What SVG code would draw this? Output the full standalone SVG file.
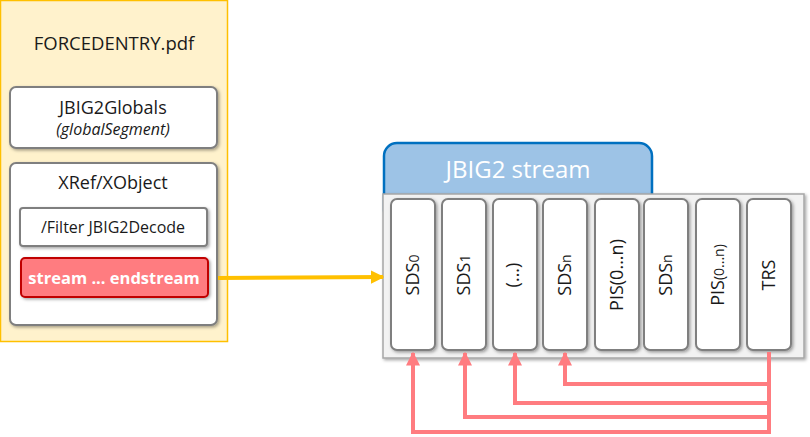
<svg xmlns="http://www.w3.org/2000/svg" width="810" height="437" viewBox="0 0 810 437">
<defs>
<filter id="sh" x="-20%" y="-20%" width="140%" height="140%">
<feDropShadow dx="1.5" dy="1.5" stdDeviation="1.5" flood-color="#000" flood-opacity="0.35"/>
</filter>
<marker id="ay" viewBox="0 0 10 10" refX="9" refY="5" markerWidth="3.4" markerHeight="3.4" orient="auto" markerUnits="strokeWidth">
<path d="M0,0 L10,5 L0,10 z" fill="#FFC000"/>
</marker>
<marker id="ap" viewBox="0 0 10 10" refX="9" refY="5" markerWidth="3.5" markerHeight="3.5" orient="auto" markerUnits="strokeWidth">
<path d="M0,0 L10,5 L0,10 z" fill="#FF7C80"/>
</marker>
</defs>
<style>
text{font-family:"Open Sans","Noto Sans","DejaVu Sans",sans-serif;fill:#1a1a1a}
.box{fill:#fff;stroke:#7f7f7f;stroke-width:2;filter:url(#sh)}
.col{fill:#fff;stroke:#7f7f7f;stroke-width:2;filter:url(#sh)}
.ct{font-size:18px;text-anchor:middle}
.pk{fill:none;stroke:#FF7C80;stroke-width:4}
</style>
<rect width="810" height="437" fill="#fff"/>
<g id="pdf">
<rect x="0.5" y="0.5" width="227" height="341" fill="#FFF2CC" stroke="#FFC000" stroke-width="1.5"/>
<text x="114" y="50" font-size="18.5" text-anchor="middle">FORCEDENTRY.pdf</text>
</g>
<g id="globals">
<rect class="box" x="10" y="87" width="207" height="61" rx="6"/>
<text x="113" y="114" font-size="18" text-anchor="middle">JBIG2Globals</text>
<text x="113" y="135" font-size="16" font-style="italic" text-anchor="middle">(globalSegment)</text>
</g>
<g id="xref">
<rect class="box" x="10" y="163" width="207" height="162" rx="6"/>
<text x="113" y="189" font-size="18" text-anchor="middle">XRef/XObject</text>
</g>
<g id="filter">
<rect class="box" x="20" y="208" width="187" height="38" rx="3"/>
<text x="113" y="233" font-size="16" text-anchor="middle">/Filter JBIG2Decode</text>
</g>
<g id="stream">
<rect x="21" y="258" width="187" height="39" rx="4" fill="#FF7C80" stroke="#C00000" stroke-width="2" filter="url(#sh)"/>
<text x="114" y="284" font-size="16.5" font-weight="bold" text-anchor="middle" style="fill:#fff">stream ... endstream</text>
</g>
<g id="jbig2tab">
<rect x="384" y="143" width="268" height="80" rx="13" fill="#9DC3E6" stroke="#0070C0" stroke-width="2.5"/>
<text x="518" y="178" font-size="24" text-anchor="middle" style="fill:#fff">JBIG2 stream</text>
</g>
<g id="container">
<rect x="383" y="194" width="421" height="164" fill="#F2F2F2" stroke="#A6A6A6" stroke-width="1.5" filter="url(#sh)"/>
</g>
<g id="sds0">
<rect class="col" x="391" y="199" width="44" height="151" rx="6"/>
<text class="ct" transform="translate(413,275) rotate(-90)" dy="6">SDS<tspan font-size="14">0</tspan></text>
</g>
<g id="sds1">
<rect class="col" x="442" y="199" width="44" height="151" rx="6"/>
<text class="ct" transform="translate(464,275) rotate(-90)" dy="6">SDS<tspan font-size="14">1</tspan></text>
</g>
<g id="dots">
<rect class="col" x="493" y="199" width="44" height="151" rx="6"/>
<text class="ct" transform="translate(515,275) rotate(-90)" dy="4" font-size="12">(...)</text>
</g>
<g id="sdsn1">
<rect class="col" x="543" y="199" width="44" height="151" rx="6"/>
<text class="ct" transform="translate(565,275) rotate(-90)" dy="6">SDS<tspan font-size="14">n</tspan></text>
</g>
<g id="pis1">
<rect class="col" x="595" y="199" width="44" height="151" rx="6"/>
<text class="ct" transform="translate(617,275) rotate(-90)" dy="6">PIS(0...n)</text>
</g>
<g id="sdsn2">
<rect class="col" x="644" y="199" width="44" height="151" rx="6"/>
<text class="ct" transform="translate(666,275) rotate(-90)" dy="6">SDS<tspan font-size="14">n</tspan></text>
</g>
<g id="pis2">
<rect class="col" x="696" y="199" width="44" height="151" rx="6"/>
<text class="ct" transform="translate(718,275) rotate(-90)" dy="6">PIS<tspan font-size="14">(0...n)</tspan></text>
</g>
<g id="trs">
<rect class="col" x="747" y="199" width="44" height="151" rx="6"/>
<text class="ct" transform="translate(769,275) rotate(-90)" dy="6">TRS</text>
</g>
<g id="connectors">
<line x1="218" y1="278" x2="383" y2="277" stroke="#FFC000" stroke-width="4" marker-end="url(#ay)"/>
<path class="pk" d="M769,352 V432"/>
<path class="pk" d="M769,384 H565 V353" marker-end="url(#ap)"/>
<path class="pk" d="M769,403 H515 V353" marker-end="url(#ap)"/>
<path class="pk" d="M769,417 H465 V353" marker-end="url(#ap)"/>
<path class="pk" d="M771,432 H413 V353" marker-end="url(#ap)"/>
</g>
</svg>
